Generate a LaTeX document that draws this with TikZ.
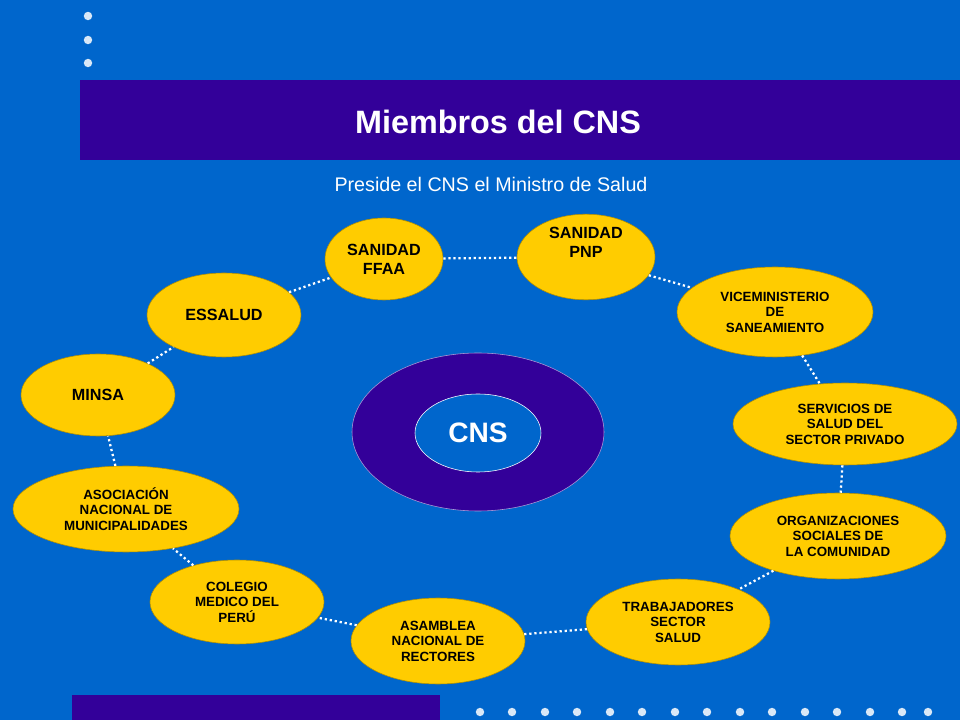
\documentclass[tikz,border=0pt]{standalone}
\usepackage{fontspec}
\setmainfont{Liberation Sans}
\usetikzlibrary{shapes.geometric}
\definecolor{fondo}{HTML}{0066CC}
\definecolor{morado}{HTML}{330099}
\definecolor{amarillo}{HTML}{FFCC00}
\begin{document}
\begin{tikzpicture}[x=0.025cm,y=-0.025cm]

	 % styles of the members
	 \tikzstyle{miembro}=[ellipse,fill=amarillo,draw=amarillo!70!black,thin,inner sep=0pt,align=center,font=\bfseries\fontsize{9.5}{11}\selectfont]
	 \tikzstyle{grande}=[font=\bfseries\fontsize{11.5}{13.5}\selectfont]
	 \tikzstyle{enlace}=[white,line width=1.6pt,dotted]
	 \tikzstyle{punto}=[circle,fill=white!85!fondo,inner sep=0pt,minimum size=6pt]

	 % background, title bar and dots
	 \fill[fondo] (0,0) rectangle (960,720);
	 \fill[morado] (80,80) rectangle (960,160);
	 \fill[morado] (72,695) rectangle (440,720);
	 \foreach \y in {16,40,63} \node[punto] at (88,\y) {};
	 \foreach \x in {480,512,545,577,610,642,675,707,740,772,805,837,870,902,928}
	   \node[punto] at (\x,712) {};
	 \node[white,font=\bfseries\fontsize{23}{27}\selectfont] (titulo) at (498,122) {Miembros del CNS};
	 \node[white,font=\fontsize{14}{17}\selectfont] (preside) at (491,184) {Preside el CNS el Ministro de Salud};

	 % centre
	 \node[ellipse,fill=morado,draw=white!60!morado,minimum width=252*0.025cm,minimum height=158*0.025cm] (anillo) at (478,432) {};
	 \node[ellipse,fill=fondo,draw=white,minimum width=126*0.025cm,minimum height=78*0.025cm,text=white,font=\bfseries\fontsize{20}{24}\selectfont] (cns) at (478,433) {CNS};

	 % members
	 \node[miembro,grande,minimum width=118*0.025cm,minimum height=82*0.025cm] (ffaa) at (384,259) {SANIDAD\\FFAA};
	 \node[miembro,grande,minimum width=138*0.025cm,minimum height=84*0.025cm] (pnp) at (586,257) {SANIDAD\\PNP\\[8pt]};
	 \node[miembro,minimum width=196*0.025cm,minimum height=90*0.025cm] (vice) at (775,312) {VICEMINISTERIO\\DE\\SANEAMIENTO};
	 \node[miembro,minimum width=224*0.025cm,minimum height=82*0.025cm] (servicios) at (845,424) {SERVICIOS DE\\SALUD DEL\\SECTOR PRIVADO};
	 \node[miembro,minimum width=216*0.025cm,minimum height=86*0.025cm] (organiza) at (838,536) {ORGANIZACIONES\\SOCIALES DE\\LA COMUNIDAD};
	 \node[miembro,minimum width=184*0.025cm,minimum height=86*0.025cm] (trabaja) at (678,622) {TRABAJADORES\\SECTOR\\SALUD};
	 \node[miembro,minimum width=174*0.025cm,minimum height=86*0.025cm] (asamblea) at (438,641) {ASAMBLEA\\NACIONAL DE\\RECTORES};
	 \node[miembro,minimum width=174*0.025cm,minimum height=84*0.025cm] (colegio) at (237,602) {COLEGIO\\MEDICO DEL\\PERÚ};
	 \node[miembro,minimum width=226*0.025cm,minimum height=86*0.025cm] (asocia) at (126,509) {ASOCIACIÓN\\NACIONAL DE\\MUNICIPALIDADES};
	 \node[miembro,grande,minimum width=154*0.025cm,minimum height=82*0.025cm] (minsa) at (98,395) {MINSA};
	 \node[miembro,grande,minimum width=154*0.025cm,minimum height=84*0.025cm] (essalud) at (224,315) {ESSALUD};

	 % dotted ring
	 \foreach \a/\b in {ffaa/pnp,pnp/vice,vice/servicios,servicios/organiza,organiza/trabaja,
	   trabaja/asamblea,asamblea/colegio,colegio/asocia,asocia/minsa,minsa/essalud,essalud/ffaa}
	   \draw[enlace] (\a) -- (\b);

\end{tikzpicture}
\end{document}
